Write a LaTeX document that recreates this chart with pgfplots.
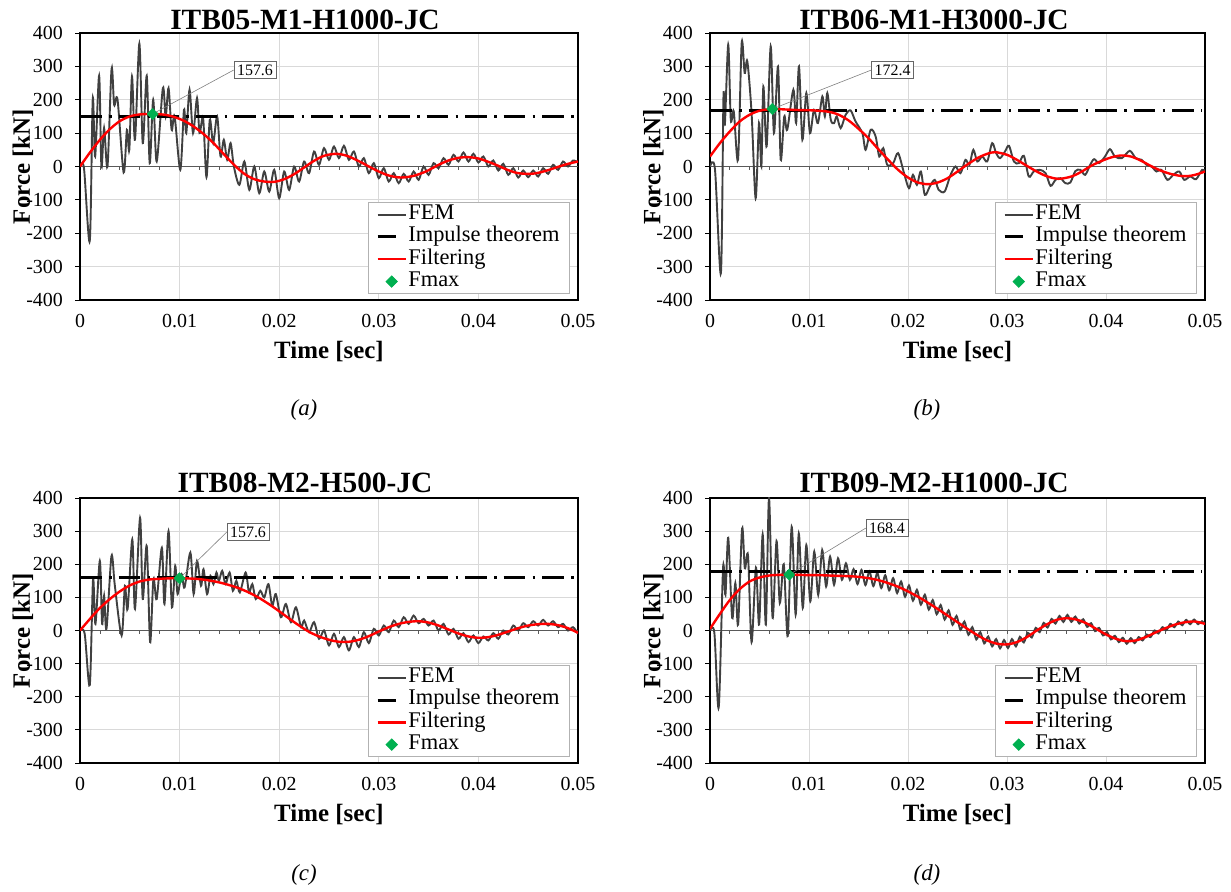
\documentclass[border=0pt]{standalone}
\usepackage{fontspec}
\setmainfont{Liberation Serif}
\usepackage{pgfplots}
\pgfplotsset{compat=1.18}
\definecolor{femgray}{HTML}{404040}
\definecolor{fmaxgreen}{HTML}{00B050}
\definecolor{gridgray}{HTML}{D9D9D9}
\tikzset{
  zeroline/.style={gray!70!black, line width=0.8bp},
  callout/.style={draw=gray!80!black, line width=0.8bp, fill=white, inner sep=3bp, font=\fontsize{16}{16}\selectfont},
}
\pgfplotsset{
  panel/.style={
    scale only axis,
    xmin=0, xmax=0.05, ymin=-400, ymax=400,
    xtick={0,0.01,0.02,0.03,0.04,0.05},
    xticklabels={0,0.01,0.02,0.03,0.04,0.05},
    scaled x ticks=false,
    ytick={-400,-300,-200,-100,0,100,200,300,400},
    grid=major,
    major grid style={gridgray, line width=0.8bp},
    axis line style={black, line width=1.2bp},
    tick pos=left,
    tick align=outside,
    major tick length=5bp,
    xtick style={draw=none},
    ytick style={black, line width=0.8bp},
    /pgf/number format/assume math mode=true,
    tick label style={font=\fontsize{20}{20}\selectfont},
    xticklabel style={anchor=base, yshift=-23bp},
    yticklabel style={anchor=east, inner sep=0pt, xshift=-12bp},
    xlabel={Time [sec]},
    ylabel={Force [kN]},
    every axis x label/.style={at={(axis description cs:0.5,0)}, anchor=base, yshift=-59bp, font=\bfseries\fontsize{25}{25}\selectfont},
    every axis y label/.style={at={(axis description cs:-0.1145,0.5)}, anchor=center, rotate=90, font=\bfseries\fontsize{25}{25}\selectfont},
    legend style={at={(axis description cs:0.983,0.022)}, anchor=south east, draw=gray!60, line width=0.8bp, fill=white, font=\fontsize{22.5}{22.5}\selectfont, inner xsep=8bp, inner ysep=1bp, row sep=0bp, column sep=0bp, nodes={inner xsep=1.5bp, inner ysep=1bp, text height=15bp, text depth=5.3bp}, cells={anchor=west}},
    legend image code/.code={\draw[##1] (0bp,0bp) -- (28bp,0bp);},
  },
  fem/.style={femgray, line width=1.9bp, smooth},
  filt/.style={red, line width=2.4bp, smooth},
  imp/.style={black, line width=3bp, dash pattern=on 21.5bp off 7.5bp on 2.5bp off 7bp, legend image code/.code={\draw[black, line width=3bp] (0bp,0bp) -- (18bp,0bp);}},
  fmax/.style={only marks, mark=square*, mark size=4bp, mark options={rotate=45, fill=fmaxgreen, draw=fmaxgreen}, legend image code/.code={\draw[mark repeat=2,mark phase=2,##1] plot coordinates {(0bp,0bp) (14bp,0bp) (28bp,0bp)};}},
}
\newcommand{\zeroticks}{%
  \draw[zeroline] (axis cs:0,0) -- (axis cs:0.05,0);
  \pgfplotsinvokeforeach{0.002,0.004,0.006,0.008,0.010,0.012,0.014,0.016,0.018,0.020,0.022,0.024,0.026,0.028,0.030,0.032,0.034,0.036,0.038,0.040,0.042,0.044,0.046,0.048}{\draw[zeroline] (axis cs:##1,0) -- ([yshift=-4bp]axis cs:##1,0);}
}
\begin{document}
\begin{tikzpicture}
\useasboundingbox (0,0) rectangle (1231bp,892bp);
% ---------------- (a)
\begin{axis}[panel, width=498bp, height=267bp, at={(80bp,592bp)}, anchor=south west]
\zeroticks
\addplot[fem] coordinates {(0,0) (0.0004,-5) (0.00098,-223) (0.00128,203) (0.00152,30) (0.00192,272) (0.00215,0) (0.00242,115) (0.00276,0) (0.00317,293) (0.00343,185) (0.00377,200) (0.00438,-18) (0.00471,110) (0.00495,50) (0.00522,270) (0.00552,80) (0.00596,368) (0.0063,70) (0.0067,272) (0.0070,10) (0.00735,200) (0.0077,15) (0.00832,235) (0.0086,150) (0.00889,235) (0.0092,110) (0.0095,150) (0.01007,-10) (0.01044,170) (0.01067,100) (0.011,230) (0.01135,100) (0.01175,205) (0.012,100) (0.01236,145) (0.0127,-32) (0.01303,140) (0.01337,70) (0.01377,150) (0.01411,30) (0.01444,80) (0.01478,20) (0.01512,70) (0.01545,0) (0.016,-55) (0.0165,15) (0.017,-70) (0.0175,0) (0.018,-80) (0.0185,-15) (0.019,-75) (0.0195,-10) (0.020,-95) (0.0205,-15) (0.021,-70) (0.0215,0) (0.022,-45) (0.0225,15) (0.023,-20) (0.0235,45) (0.024,5) (0.0245,55) (0.025,20) (0.0255,60) (0.026,25) (0.0265,62) (0.027,20) (0.0275,45) (0.028,0) (0.0285,25) (0.029,-20) (0.0295,10) (0.030,-35) (0.0305,-5) (0.031,-45) (0.0315,-20) (0.032,-50) (0.0325,-22) (0.033,-45) (0.0335,-15) (0.034,-40) (0.0345,0) (0.035,-25) (0.0355,10) (0.036,-5) (0.0365,25) (0.037,5) (0.0375,35) (0.038,15) (0.0385,42) (0.039,15) (0.0395,38) (0.040,12) (0.0405,30) (0.041,0) (0.0415,18) (0.042,-12) (0.0425,8) (0.043,-25) (0.0435,-5) (0.044,-33) (0.0445,-12) (0.045,-32) (0.0455,-12) (0.046,-30) (0.0465,-5) (0.047,-22) (0.0475,5) (0.048,-10) (0.0485,15) (0.049,0) (0.0495,18) (0.050,12)};
\addplot[imp] coordinates {(0,150) (0.0497,150)};
\addplot[filt] coordinates {(0,0) (0.001,42) (0.002,80) (0.003,112) (0.004,136) (0.005,150) (0.006,156) (0.0073,157.6) (0.0085,155) (0.0095,148) (0.0105,136) (0.0115,118) (0.0125,95) (0.0135,67) (0.0145,35) (0.0155,4) (0.0165,-22) (0.0175,-38) (0.0185,-45) (0.0195,-46) (0.0205,-38) (0.0215,-23) (0.0225,-3) (0.0235,17) (0.0245,32) (0.0257,38) (0.0268,32) (0.028,16) (0.029,0) (0.030,-15) (0.031,-27) (0.0322,-33) (0.0335,-28) (0.0348,-14) (0.036,5) (0.037,18) (0.038,26) (0.039,28) (0.040,24) (0.041,14) (0.042,2) (0.043,-11) (0.044,-20) (0.0452,-22) (0.046,-19) (0.047,-11) (0.048,-1) (0.049,8) (0.050,15)};
\node[callout] (lab) at (axis cs:0.01757,289) {157.6};
\draw[gray, line width=0.6bp] (axis cs:0.0073,157.6) -- (lab.west);
\addplot[fmax] coordinates {(0.0073,157.6)};
\legend{FEM,Impulse theorem,Filtering,Fmax}
\end{axis}
% ---------------- (b)
\begin{axis}[panel, width=495bp, height=267bp, at={(710bp,592bp)}, anchor=south west]
\zeroticks
\addplot[fem] coordinates {(0,0) (0.0005,-8) (0.0011,-320) (0.00136,210) (0.0015,125) (0.00184,365) (0.0021,140) (0.0024,165) (0.00283,20) (0.0032,370) (0.0035,280) (0.00377,315) (0.0042,160) (0.00461,-95) (0.00495,130) (0.00519,0) (0.00539,240) (0.00572,60) (0.00613,360) (0.00646,100) (0.00687,300) (0.00714,20) (0.0075,150) (0.0078,110) (0.00842,230) (0.0087,130) (0.00899,300) (0.00933,80) (0.00973,220) (0.0101,100) (0.0105,170) (0.0109,130) (0.01135,210) (0.0116,150) (0.01185,220) (0.0122,140) (0.01253,130) (0.0128,150) (0.0132,115) (0.0137,155) (0.0142,168) (0.0147,135) (0.01539,100) (0.01572,50) (0.01623,110) (0.01673,90) (0.0171,30) (0.0175,55) (0.0179,5) (0.0185,10) (0.0190,40) (0.0196,-20) (0.0201,-65) (0.0205,-25) (0.0209,-55) (0.0213,-15) (0.0217,-85) (0.0222,-60) (0.0227,-40) (0.0231,-70) (0.0237,-75) (0.0243,-25) (0.0248,0) (0.0253,-20) (0.0258,20) (0.0262,5) (0.0266,50) (0.0270,15) (0.0275,30) (0.0280,15) (0.0285,70) (0.0289,40) (0.0293,25) (0.0298,45) (0.0302,62) (0.0307,15) (0.0312,10) (0.0317,32) (0.0322,-30) (0.0327,-15) (0.0333,-10) (0.0339,-20) (0.0344,-58) (0.0349,-40) (0.0354,-35) (0.0359,-50) (0.0364,-48) (0.0369,-14) (0.0374,-10) (0.0379,-25) (0.0384,5) (0.0388,22) (0.0393,10) (0.0399,30) (0.0404,52) (0.0409,30) (0.0416,25) (0.0424,47) (0.0430,25) (0.0436,20) (0.0441,5) (0.0446,0) (0.0451,-15) (0.0456,-10) (0.0462,-40) (0.0468,-25) (0.0474,-15) (0.0479,-40) (0.0485,-30) (0.0491,-38) (0.0497,-10) (0.0500,-14)};
\addplot[imp] coordinates {(0,168) (0.0497,168)};
\addplot[filt] coordinates {(0,30) (0.001,70) (0.002,105) (0.003,135) (0.004,155) (0.005,167) (0.0063,172.4) (0.0075,171) (0.009,169) (0.0105,168) (0.012,164) (0.013,155) (0.014,138) (0.015,113) (0.016,85) (0.017,52) (0.018,20) (0.019,-10) (0.020,-33) (0.021,-48) (0.022,-53) (0.023,-48) (0.024,-35) (0.025,-15) (0.0258,2) (0.027,25) (0.028,38) (0.0288,43) (0.030,35) (0.031,20) (0.032,2) (0.033,-15) (0.034,-29) (0.0352,-37) (0.0365,-30) (0.0375,-16) (0.0385,2) (0.0395,16) (0.0405,27) (0.0415,33) (0.0425,30) (0.0435,18) (0.0445,2) (0.0455,-12) (0.0465,-22) (0.0475,-28) (0.0482,-29) (0.049,-25) (0.050,-15)};
\node[callout] (lab) at (axis cs:0.01845,289) {172.4};
\draw[gray, line width=0.6bp] (axis cs:0.0063,172.4) -- (lab.west);
\addplot[fmax] coordinates {(0.0063,172.4)};
\legend{FEM,Impulse theorem,Filtering,Fmax}
\end{axis}
% ---------------- (c)
\begin{axis}[panel, width=498bp, height=265bp, at={(80bp,129bp)}, anchor=south west]
\zeroticks
\addplot[fem] coordinates {(0,0) (0.00047,-10) (0.00098,-165) (0.00131,155) (0.00155,20) (0.00199,210) (0.00222,20) (0.00242,105) (0.00266,5) (0.00316,225) (0.0035,135) (0.00418,-15) (0.00451,135) (0.00478,65) (0.00525,275) (0.00552,65) (0.00603,340) (0.0063,95) (0.0067,255) (0.00704,-35) (0.00737,155) (0.0077,95) (0.00822,250) (0.00848,80) (0.00889,300) (0.00923,70) (0.00956,195) (0.0098,110) (0.0102,170) (0.0105,130) (0.01108,235) (0.01141,110) (0.01175,210) (0.01215,135) (0.0124,185) (0.01276,110) (0.0131,165) (0.0134,140) (0.0137,175) (0.01394,150) (0.01428,180) (0.01461,140) (0.01502,175) (0.01535,120) (0.0157,150) (0.01605,115) (0.01663,175) (0.01697,115) (0.0173,140) (0.01765,95) (0.0181,120) (0.0185,100) (0.01892,140) (0.0193,75) (0.01966,110) (0.02017,40) (0.02067,80) (0.02118,25) (0.02168,70) (0.0222,10) (0.0225,30) (0.0230,-5) (0.0235,25) (0.0240,-25) (0.0245,0) (0.0250,-45) (0.0255,-10) (0.0260,-50) (0.0265,-20) (0.0270,-60) (0.0275,-20) (0.0280,-50) (0.0285,-5) (0.0290,-38) (0.0295,5) (0.0300,-15) (0.0305,15) (0.0310,-5) (0.0315,30) (0.0320,10) (0.0325,40) (0.0330,20) (0.0335,45) (0.0340,22) (0.0345,35) (0.0350,15) (0.0355,30) (0.0360,0) (0.0365,20) (0.0370,-12) (0.0375,5) (0.0380,-25) (0.0385,-8) (0.0390,-35) (0.0395,-15) (0.0400,-38) (0.0405,-18) (0.0410,-30) (0.0415,-8) (0.0420,-25) (0.0425,0) (0.0430,-12) (0.0435,15) (0.0440,0) (0.0445,22) (0.0450,10) (0.0455,28) (0.0460,15) (0.0465,32) (0.0470,15) (0.0475,28) (0.0480,10) (0.0485,20) (0.0490,0) (0.0495,10) (0.0500,-10)};
\addplot[imp] coordinates {(0,160) (0.0497,160)};
\addplot[filt] coordinates {(0,0) (0.001,35) (0.002,68) (0.003,95) (0.004,118) (0.005,136) (0.006,148) (0.007,154) (0.008,156) (0.009,157.5) (0.010,157.6) (0.011,157) (0.012,155) (0.013,151) (0.014,145) (0.015,137) (0.016,127) (0.017,114) (0.018,98) (0.019,79) (0.020,58) (0.021,36) (0.022,15) (0.023,-4) (0.024,-18) (0.025,-28) (0.026,-34) (0.027,-34) (0.028,-28) (0.029,-17) (0.030,-3) (0.031,10) (0.032,20) (0.033,26) (0.034,28) (0.035,24) (0.036,15) (0.037,3) (0.038,-9) (0.039,-18) (0.040,-22) (0.041,-20) (0.042,-13) (0.043,-3) (0.044,7) (0.045,15) (0.046,19) (0.047,20) (0.048,16) (0.049,7) (0.050,-7)};
\node[callout] (lab) at (axis cs:0.01687,297) {157.6};
\draw[gray, line width=0.6bp] (axis cs:0.0100,157.6) -- (lab.west);
\addplot[fmax] coordinates {(0.0100,157.6)};
\legend{FEM,Impulse theorem,Filtering,Fmax}
\end{axis}
% ---------------- (d)
\begin{axis}[panel, width=495bp, height=265bp, at={(710bp,129bp)}, anchor=south west]
\zeroticks
\addplot[fem] coordinates {(0,0) (0.00044,-7) (0.00088,-232) (0.00132,190) (0.00156,108) (0.00184,280) (0.00224,38) (0.00256,143) (0.00284,18) (0.00324,308) (0.00352,188) (0.00384,226) (0.0042,-35) (0.00464,190) (0.00496,18) (0.00532,290) (0.00564,18) (0.00596,400) (0.00632,38) (0.00672,270) (0.00705,83) (0.00745,200) (0.00785,-17) (0.00825,313) (0.00865,48) (0.00897,293) (0.00937,68) (0.00973,258) (0.01013,88) (0.01053,238) (0.01093,108) (0.01133,243) (0.01173,133) (0.01213,223) (0.01253,138) (0.01293,218) (0.01333,153) (0.01373,203) (0.01413,153) (0.0145,185) (0.0149,140) (0.0153,183) (0.0157,137) (0.0161,179) (0.0165,134) (0.0169,174) (0.0173,128) (0.0177,167) (0.0181,121) (0.0185,158) (0.0189,113) (0.0193,148) (0.0197,102) (0.0201,136) (0.0205,90) (0.0209,123) (0.0213,78) (0.0217,108) (0.0221,63) (0.0225,92) (0.0229,49) (0.0233,77) (0.0237,33) (0.0241,61) (0.0245,17) (0.0249,44) (0.0253,2) (0.0257,27) (0.0261,-13) (0.0265,10) (0.0269,-27) (0.0273,-5) (0.0277,-39) (0.0281,-18) (0.0285,-48) (0.0289,-26) (0.0293,-54) (0.0297,-29) (0.0301,-53) (0.0305,-26) (0.0309,-48) (0.0313,-19) (0.0317,-36) (0.0321,-7) (0.0325,-21) (0.0329,8) (0.0333,-5) (0.0337,23) (0.0341,9) (0.0345,35) (0.0349,21) (0.0353,44) (0.0357,26) (0.0361,47) (0.0365,26) (0.0369,42) (0.0373,21) (0.0377,34) (0.0381,11) (0.0385,22) (0.0389,-2) (0.0393,8) (0.0397,-15) (0.0401,-5) (0.0405,-27) (0.0409,-16) (0.0413,-35) (0.0417,-22) (0.0421,-40) (0.0425,-23) (0.0429,-38) (0.0433,-20) (0.0437,-30) (0.0441,-12) (0.0445,-20) (0.0449,0) (0.0453,-9) (0.0457,10) (0.0461,1) (0.0465,20) (0.0469,10) (0.0473,27) (0.0477,16) (0.0481,32) (0.0485,19) (0.0489,33) (0.0493,19) (0.0497,28) (0.0500,20)};
\addplot[imp] coordinates {(0,177) (0.0497,177)};
\addplot[filt] coordinates {(0,5) (0.001,50) (0.002,92) (0.003,125) (0.004,148) (0.005,160) (0.006,166) (0.007,168) (0.008,168.4) (0.009,168) (0.010,167) (0.011,167) (0.012,166) (0.013,165) (0.014,164) (0.015,162) (0.016,158) (0.017,152) (0.018,143) (0.019,132) (0.020,118) (0.021,102) (0.022,84) (0.023,65) (0.024,45) (0.025,25) (0.026,5) (0.027,-14) (0.028,-30) (0.029,-40) (0.030,-42) (0.031,-35) (0.032,-20) (0.033,0) (0.034,18) (0.035,32) (0.036,37) (0.037,33) (0.038,22) (0.039,5) (0.040,-12) (0.041,-25) (0.042,-32) (0.043,-30) (0.044,-20) (0.045,-6) (0.046,7) (0.047,18) (0.048,25) (0.049,27) (0.050,20)};
\node[callout] (lab) at (axis cs:0.01788,309) {168.4};
\draw[gray, line width=0.6bp] (axis cs:0.0080,168.4) -- (lab.west);
\addplot[fmax] coordinates {(0.0080,168.4)};
\legend{FEM,Impulse theorem,Filtering,Fmax}
\end{axis}
% titles and captions
\node[font=\bfseries\fontsize{29.5}{30}\selectfont, anchor=base] at (305bp,862bp) {ITB05-M1-H1000-JC};
\node[font=\bfseries\fontsize{29.5}{30}\selectfont, anchor=base] at (934bp,862bp) {ITB06-M1-H3000-JC};
\node[font=\bfseries\fontsize{29.5}{30}\selectfont, anchor=base] at (305bp,399bp) {ITB08-M2-H500-JC};
\node[font=\bfseries\fontsize{29.5}{30}\selectfont, anchor=base] at (934bp,399bp) {ITB09-M2-H1000-JC};
\node[font=\itshape\fontsize{23}{23}\selectfont] at (304bp,482bp) {(a)};
\node[font=\itshape\fontsize{23}{23}\selectfont] at (927bp,482bp) {(b)};
\node[font=\itshape\fontsize{23}{23}\selectfont] at (304bp,17bp) {(c)};
\node[font=\itshape\fontsize{23}{23}\selectfont] at (927bp,17bp) {(d)};
\end{tikzpicture}
\end{document}
